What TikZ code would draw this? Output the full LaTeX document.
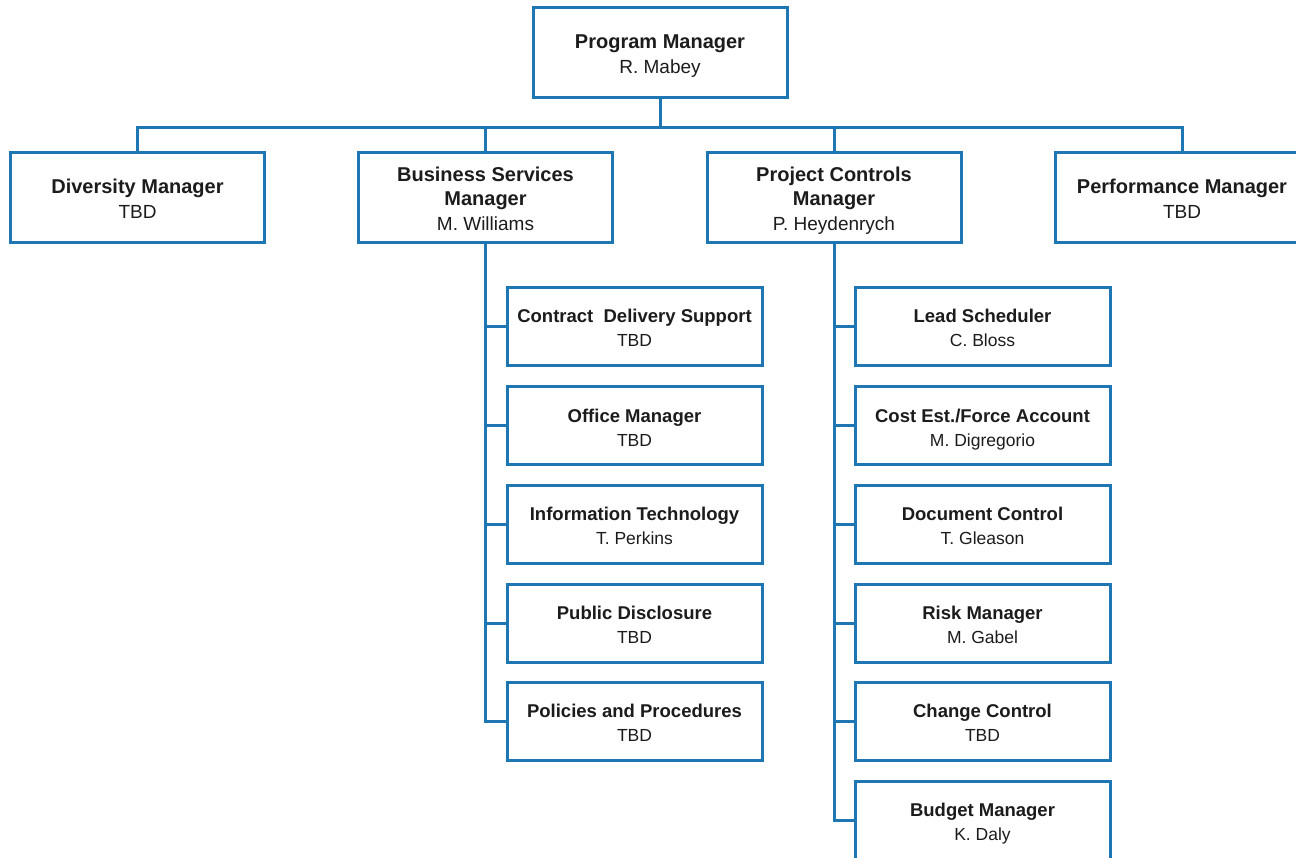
\documentclass[tikz,border=0pt]{standalone}
\usepackage{fontspec}
\setmainfont{Liberation Sans}
\definecolor{boxblue}{RGB}{30,118,178}
\definecolor{txt}{RGB}{28,28,28}
\newcommand\tstrut{\rule{0pt}{21.5pt}}
\newcommand\bstrut{\rule[-4pt]{0pt}{4pt}}
\newcommand\hdA[1]{{\fontsize{20}{24.5}\selectfont\bfseries #1}}
\newcommand\nmA[1]{{\fontsize{19}{24.5}\selectfont #1}}
\newcommand\hdB[1]{{\fontsize{18.5}{24}\selectfont\bfseries #1}}
\newcommand\nmB[1]{{\fontsize{17.5}{24}\selectfont #1}}
\newcommand\twoA[2]{\tstrut\hdA{#1}\\\nmA{#2}\bstrut}
\newcommand\threeA[3]{\tstrut\hdA{#1}\\\hdA{#2}\\\nmA{#3}\bstrut}
\newcommand\twoB[2]{\tstrut\hdB{#1}\\\nmB{#2}\bstrut}
\tikzset{
  topbox/.style={draw=boxblue, line width=3pt, rectangle, minimum width=254pt, minimum height=90pt, inner sep=0pt, align=center, text=txt, font=\fontsize{19}{24.5}\selectfont},
  subbox/.style={draw=boxblue, line width=3pt, rectangle, minimum width=255pt, minimum height=78pt, inner sep=0pt, align=center, text=txt, font=\fontsize{17.5}{24}\selectfont},
  conn/.style={draw=boxblue, line width=3pt}
}
\begin{document}
\begin{tikzpicture}[x=1pt,y=-1pt]
\useasboundingbox (0,0) rectangle (1296,857);
\fill[white] (0,0) rectangle (1296,857);
\node[topbox] (pm) at (660,52) {\twoA{Program Manager}{R. Mabey}};
\node[topbox] (div) at (137.5,197) {\twoA{Diversity Manager}{TBD}};
\node[topbox] (bs) at (485.5,197) {\threeA{Business Services}{Manager}{M. Williams}};
\node[topbox] (pc) at (834,197) {\threeA{Project Controls}{Manager}{P. Heydenrych}};
\node[topbox] (perf) at (1182,197) {\twoA{Performance Manager}{TBD}};
\coordinate (bus) at (0,127);
\draw[conn] (pm.south) -- (pm.south |- bus);
\draw[conn] (div.north) -- (div.north |- bus) -- (perf.north |- bus) -- (perf.north);
\draw[conn] (bs.north) -- (bs.north |- bus);
\draw[conn] (pc.north) -- (pc.north |- bus);
% Business services children
\node[subbox] (b1) at (634.5,326) {\twoB{Contract~ Delivery Support}{TBD}};
\node[subbox] (b2) at (634.5,425.5) {\twoB{Office Manager}{TBD}};
\node[subbox] (b3) at (634.5,524) {\twoB{Information Technology}{T. Perkins}};
\node[subbox] (b4) at (634.5,623) {\twoB{Public Disclosure}{TBD}};
\node[subbox] (b5) at (634.5,721) {\twoB{Policies and Procedures}{TBD}};
% Project controls children
\node[subbox] (p1) at (982.5,326) {\twoB{Lead Scheduler}{C. Bloss}};
\node[subbox] (p2) at (982.5,425.5) {\twoB{Cost Est./Force Account}{M. Digregorio}};
\node[subbox] (p3) at (982.5,524) {\twoB{Document Control}{T. Gleason}};
\node[subbox] (p4) at (982.5,623) {\twoB{Risk Manager}{M. Gabel}};
\node[subbox] (p5) at (982.5,721) {\twoB{Change Control}{TBD}};
\node[subbox] (p6) at (982.5,820) {\twoB{Budget Manager}{K. Daly}};
\foreach \c in {b1,b2,b3,b4,b5} \draw[conn] (bs.south) |- (\c.west);
\foreach \c in {p1,p2,p3,p4,p5,p6} \draw[conn] (pc.south) |- (\c.west);
\end{tikzpicture}
\end{document}
